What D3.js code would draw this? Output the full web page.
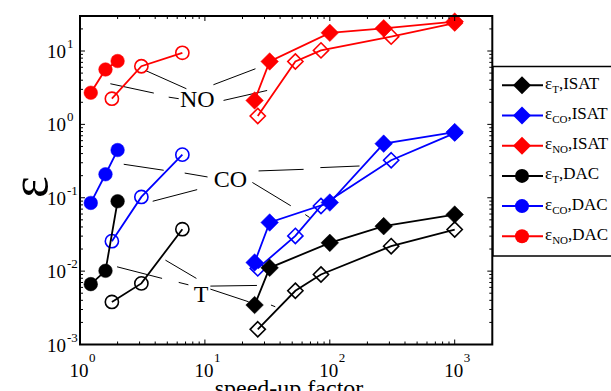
<!DOCTYPE html>
<html><head><meta charset="utf-8">
<script src="https://cdn.jsdelivr.net/npm/d3@7"></script>
<style>body{margin:0;background:#fff}svg{display:block}text{font-family:"Liberation Serif","Times New Roman",serif}</style>
</head><body><svg id="c" width="611" height="391"></svg>
<script>
// ---- data ----
const xDomain = [1, 2000];
const yDomain = [1e-3, 30];
const xMajorTicks = [1, 10, 100, 1000];
const xTickExps = ["0", "1", "2", "3"];
const yMajorTicks = [1e-3, 1e-2, 1e-1, 1, 10];
const yTickExps = ["-3", "-2", "-1", "0", "1"];

const dacX = [1.22, 1.6, 2.0];
const dacOpenX = [1.8, 3.1, 6.6];
const isatX = [25, 33, 100, 270, 1000];
const isatOpenX = [26.5, 53, 85, 310, 1000];

const T_DAC = [0.00665, 0.0101, 0.0896];
const T_DAC_open = [0.0038, 0.0068, 0.0373];
const CO_DAC = [0.085, 0.209, 0.447];
const CO_DAC_open = [0.0256, 0.1026, 0.387];
const NO_DAC = [2.7, 5.6, 7.3];
const NO_DAC_open = [2.24, 6.2, 9.45];
const T_ISAT = [0.00345, 0.0111, 0.0243, 0.041, 0.059];
const T_ISAT_open = [0.00161, 0.0054, 0.009, 0.0219, 0.0369];
const CO_ISAT = [0.0131, 0.046, 0.086, 0.546, 0.785];
const CO_ISAT_open = [0.0109, 0.0302, 0.0773, 0.324, 0.76];
const NO_ISAT = [2.12, 7.2, 17.7, 20.4, 25.2];
const NO_ISAT_open = [1.3, 7.2, 10.2, 15.7, 24];

const legendSubs = ["T", "CO", "NO", "T", "CO", "NO"];
const legendMethods = ["ISAT", "ISAT", "ISAT", "DAC", "DAC", "DAC"];
const legendColors = ["#000", "#00f", "#f00", "#000", "#00f", "#f00"];
const legendShapes = ["diamond", "diamond", "diamond", "circle", "circle", "circle"];

// annotation labels (data coords) and leader segments [[x1,y1],[x2,y2]]
const annoLabels = [
  {t: "NO", x: 8.7, y: 1.72},
  {t: "CO", x: 16, y: 0.140},
  {t: "T", x: 9.3, y: 0.00382}
];
const annoSegments = [
  [[1.75, 3.58], [3.9, 2.67]], [[5.13, 2.35], [6.17, 2.24]],
  [[3.34, 5.43], [7.11, 3.06]],
  [[11.7, 3.47], [25.4, 5.73]],
  [[14.1, 2.12], [31.5, 2.90]],
  [[2.24, 0.286], [4.68, 0.237]], [[6.89, 0.217], [10.5, 0.192]],
  [[3.82, 0.0896], [8.67, 0.129]],
  [[26.9, 0.232], [61.7, 0.244]], [[84, 0.2575], [173, 0.271]],
  [[24, 0.1615], [48.7, 0.0778]], [[63.6, 0.059], [68.9, 0.0538]],
  [[1.98, 0.01145], [4.54, 0.00796]], [[6.17, 0.00702], [7.38, 0.00651]],
  [[4.83, 0.01412], [8.55, 0.00796]],
  [[11.06, 0.00625], [26.1, 0.00638]],
  [[11.06, 0.00569], [22.4, 0.00382]], [[33.8, 0.00345], [36.6, 0.00327]]
];

// ---- drawing ----
const svg = d3.select("#c");
svg.append("rect").attr("width", 611).attr("height", 391).attr("fill", "#fff");
const L = 80, R = 492.3, T = 16, B = 344.5;
const x = d3.scaleLog().domain(xDomain).range([L, R]);
const y = d3.scaleLog().domain(yDomain).range([B, T]);

const diamond = (s) => `M0,${-s}L${s},0L0,${s}L${-s},0Z`;

const series = [
  {xs: dacOpenX, ys: NO_DAC_open, c: "#f00", shape: "circle", open: true},
  {xs: dacX, ys: NO_DAC, c: "#f00", shape: "circle", open: false},
  {xs: isatOpenX, ys: NO_ISAT_open, c: "#f00", shape: "diamond", open: true},
  {xs: isatX, ys: NO_ISAT, c: "#f00", shape: "diamond", open: false},
  {xs: dacOpenX, ys: CO_DAC_open, c: "#00f", shape: "circle", open: true},
  {xs: dacX, ys: CO_DAC, c: "#00f", shape: "circle", open: false},
  {xs: isatOpenX, ys: CO_ISAT_open, c: "#00f", shape: "diamond", open: true},
  {xs: isatX, ys: CO_ISAT, c: "#00f", shape: "diamond", open: false},
  {xs: dacOpenX, ys: T_DAC_open, c: "#000", shape: "circle", open: true},
  {xs: dacX, ys: T_DAC, c: "#000", shape: "circle", open: false},
  {xs: isatOpenX, ys: T_ISAT_open, c: "#000", shape: "diamond", open: true},
  {xs: isatX, ys: T_ISAT, c: "#000", shape: "diamond", open: false}
];

// annotation leader lines
const ag = svg.append("g");
annoSegments.forEach(s => {
  ag.append("line").attr("x1", x(s[0][0])).attr("y1", y(s[0][1]))
    .attr("x2", x(s[1][0])).attr("y2", y(s[1][1]))
    .attr("stroke", "#000").attr("stroke-width", 1);
});
annoLabels.forEach(a => {
  ag.append("text").attr("x", x(a.x)).attr("y", y(a.y)).attr("text-anchor", "middle")
    .attr("font-size", 24).attr("fill", "#000").text(a.t);
});

const line = d3.line();
series.forEach(s => {
  const g = svg.append("g");
  const pts = s.xs.map((xv, i) => [x(xv), y(s.ys[i])]);
  g.append("path").attr("d", line(pts)).attr("fill", "none").attr("stroke", s.c).attr("stroke-width", 1.8);
  pts.forEach(p => {
    if (s.shape === "circle") {
      g.append("circle").attr("cx", p[0]).attr("cy", p[1])
        .attr("r", s.open ? 6.6 : 6.8)
        .attr("fill", s.open ? "none" : s.c).attr("stroke", s.c).attr("stroke-width", s.open ? 1.6 : 0.5);
    } else {
      g.append("path").attr("transform", `translate(${p[0]},${p[1]})`)
        .attr("d", diamond(s.open ? 7.6 : 8.8))
        .attr("fill", s.open ? "none" : s.c).attr("stroke", s.c).attr("stroke-width", s.open ? 1.6 : 0.5);
    }
  });
});

// frame and ticks
const fg = svg.append("g");
fg.append("rect").attr("x", L).attr("y", T).attr("width", R - L).attr("height", B - T)
  .attr("fill", "none").attr("stroke", "#000").attr("stroke-width", 2);
function minorTicks(dom) {
  const out = [];
  for (let e = Math.floor(Math.log10(dom[0])); e <= Math.ceil(Math.log10(dom[1])); e++) {
    for (let m = 1; m <= 9; m++) {
      const v = m * Math.pow(10, e);
      if (v >= dom[0] * 0.9999 && v <= dom[1] * 1.0001) out.push({v, major: m === 1});
    }
  }
  return out;
}
minorTicks(xDomain).forEach(t => {
  const len = t.major ? 5 : 3, px = x(t.v);
  fg.append("line").attr("x1", px).attr("x2", px).attr("y1", B).attr("y2", B - len).attr("stroke", "#000").attr("stroke-width", 1);
  fg.append("line").attr("x1", px).attr("x2", px).attr("y1", T).attr("y2", T + len).attr("stroke", "#000").attr("stroke-width", 1);
});
minorTicks(yDomain).forEach(t => {
  const len = t.major ? 5 : 3, py = y(t.v);
  fg.append("line").attr("y1", py).attr("y2", py).attr("x1", L).attr("x2", L + len).attr("stroke", "#000").attr("stroke-width", 1);
  fg.append("line").attr("y1", py).attr("y2", py).attr("x1", R).attr("x2", R - len).attr("stroke", "#000").attr("stroke-width", 1);
});

// tick labels
xMajorTicks.forEach((v, i) => {
  const px = x(v);
  fg.append("text").attr("x", px - 1).attr("y", 377).attr("text-anchor", "middle").attr("font-size", 19).text("10");
  fg.append("text").attr("x", px + 9).attr("y", 362).attr("font-size", 13).text(xTickExps[i]);
});
yMajorTicks.forEach((v, i) => {
  const py = y(v);
  fg.append("text").attr("x", 66).attr("y", py + 7).attr("text-anchor", "end").attr("font-size", 19).text("10");
  fg.append("text").attr("x", 67).attr("y", py - 3).attr("font-size", 13).text(yTickExps[i]);
});

// axis titles
fg.append("text").attr("x", 289).attr("y", 396).attr("text-anchor", "middle").attr("font-size", 24).text("speed-up factor");
fg.append("text").attr("transform", "translate(47,187) rotate(-90)").attr("text-anchor", "middle")
  .attr("font-size", 52).text("ε");

// legend
const lg = svg.append("g");
lg.append("rect").attr("x", 493).attr("y", 66.5).attr("width", 140).attr("height", 189.5)
  .attr("fill", "#fff").attr("stroke", "#000").attr("stroke-width", 1.5);
legendSubs.forEach((sub, i) => {
  const cy = 85.3 + i * 30.2;
  const c = legendColors[i];
  lg.append("line").attr("x1", 502).attr("x2", 543).attr("y1", cy).attr("y2", cy).attr("stroke", c).attr("stroke-width", 2);
  if (legendShapes[i] === "diamond") {
    lg.append("path").attr("transform", `translate(522,${cy})`).attr("d", diamond(9)).attr("fill", c);
  } else {
    lg.append("circle").attr("cx", 522).attr("cy", cy).attr("r", 7).attr("fill", c);
  }
  const t = lg.append("text").attr("x", 545).attr("y", cy + 3.5).attr("font-size", 17);
  t.append("tspan").text("ε");
  t.append("tspan").attr("font-size", 11).attr("dy", 4).text(sub);
  t.append("tspan").attr("dy", -4).text("," + legendMethods[i]);
});
</script></body></html>
